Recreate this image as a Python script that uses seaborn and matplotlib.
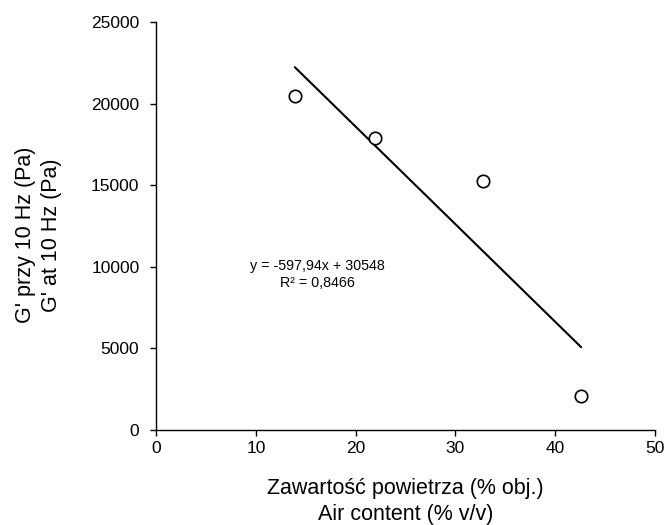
import matplotlib.pyplot as plt
import seaborn as sns
import pandas as pd
import numpy as np

# Data
air_content = [13.9, 21.9, 32.8, 42.6]
g_prime = [20450, 17900, 15250, 2100]
slope = -597.94
intercept = 30548

data = pd.DataFrame({'air': air_content, 'g': g_prime})

sns.set_style('white')
plt.rcParams['font.family'] = ['Liberation Sans', 'DejaVu Sans']
plt.rcParams['text.color'] = 'black'
plt.rcParams['axes.labelcolor'] = 'black'
plt.rcParams['xtick.color'] = 'black'
plt.rcParams['ytick.color'] = 'black'

fig = plt.figure(figsize=(6.67, 5.25), dpi=100)
ax = fig.add_axes([0.234, 0.181, 0.748, 0.777])

# trend line over the data range
xl = np.array([min(air_content), max(air_content)])
ax.plot(xl, slope * xl + intercept, color='black', lw=1.5, zorder=2)

sns.scatterplot(x='air', y='g', data=data, ax=ax, s=80, marker='o',
                facecolor='white', edgecolor='black', linewidth=1.2, zorder=3)

ax.text(0.323, 0.382, 'y = -597,94x + 30548\nR² = 0,8466', transform=ax.transAxes,
        ha='center', va='center', fontsize=10.3, linespacing=1.25)

ax.set_xlim(0, 50)
ax.set_ylim(0, 25000)
ax.set_xticks(range(0, 51, 10))
ax.set_yticks(range(0, 25001, 5000))
ax.tick_params(axis='both', direction='out', length=4, width=1, color='black',
               labelsize=12.5, bottom=True, left=True)
ax.tick_params(axis='x', pad=4)
ax.tick_params(axis='y', pad=8)
for s in ['top', 'right']:
    ax.spines[s].set_visible(False)
for s in ['left', 'bottom']:
    ax.spines[s].set_color('black')
    ax.spines[s].set_linewidth(1)

ax.set_xlabel('Zawartość powietrza (% obj.)\nAir content (% v/v)', fontsize=15.5,
              labelpad=16, linespacing=1.3)
ax.set_ylabel("G' przy 10 Hz (Pa)\nG' at 10 Hz (Pa)", fontsize=15.5,
              linespacing=1.3)
ax.yaxis.set_label_coords(-0.188, 0.478)

fig.savefig('out.png', dpi=100)
